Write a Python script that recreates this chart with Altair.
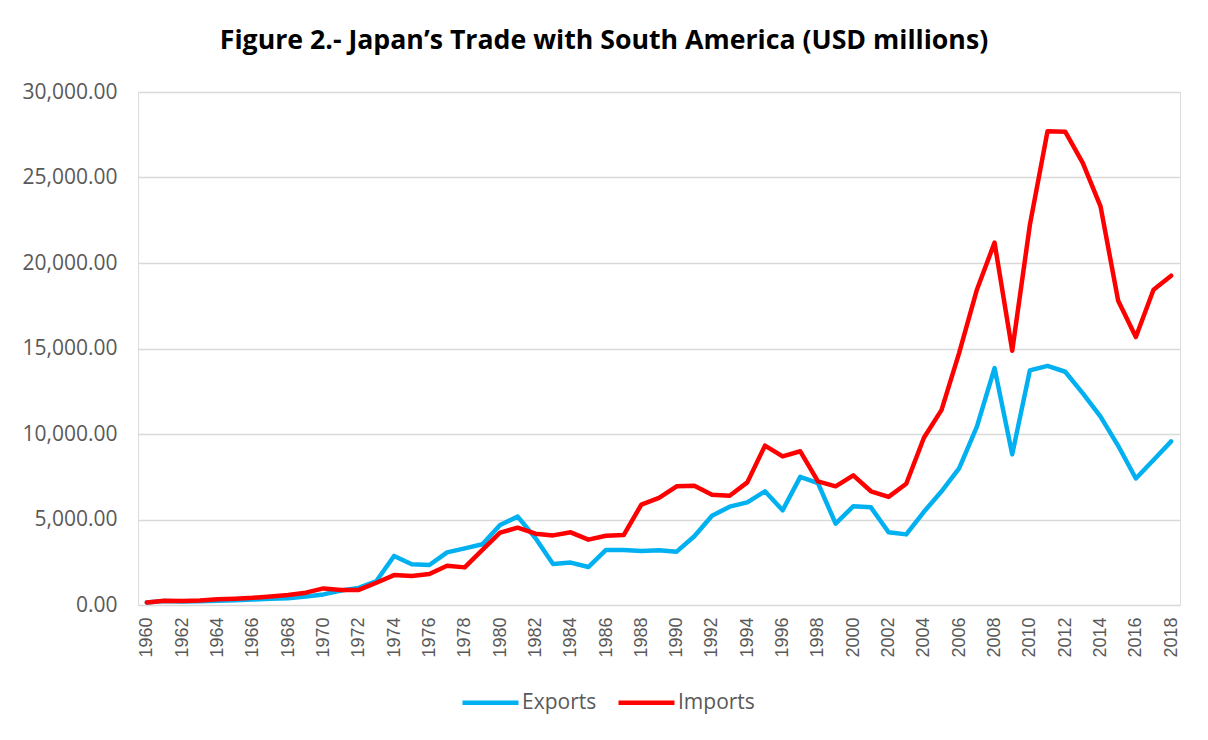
import altair as alt
import pandas as pd

years = list(range(1960, 2019))
exports = [150, 230, 200, 220, 250, 280, 320, 360, 400, 500,
           620, 850, 1000, 1400, 2870, 2380, 2340, 3080, 3310, 3550,
           4680, 5170, 3920, 2400, 2480, 2220, 3220, 3220, 3160, 3200,
           3120, 4020, 5220, 5750, 6000, 6650, 5540, 7490, 7130, 4760,
           5770, 5710, 4250, 4130, 5450, 6650, 8010, 10430, 13850, 8810,
           13720, 13980, 13640, 12380, 11020, 9310, 7400, 8480, 9570]
imports = [150, 250, 230, 270, 340, 370, 420, 500, 580, 720,
           970, 880, 880, 1300, 1750, 1700, 1810, 2300, 2200, 3220,
           4230, 4520, 4170, 4070, 4250, 3820, 4050, 4090, 5870, 6260,
           6940, 6980, 6450, 6390, 7170, 9320, 8690, 8990, 7230, 6940,
           7580, 6650, 6320, 7090, 9780, 11410, 14760, 18440, 21190, 14870,
           22230, 27710, 27680, 25840, 23310, 17790, 15670, 18440, 19260]
series_names = ["Exports", "Imports"]
series_colors = ["#00B0F0", "#FF0000"]
year_ticks = list(range(1960, 2019, 2))
y_ticks = [0, 5000, 10000, 15000, 20000, 25000, 30000]

df = pd.DataFrame({
    "Year": years * 2,
    "Value": exports + imports,
    "Series": ["Exports"] * len(years) + ["Imports"] * len(years),
})

chart = alt.Chart(df).mark_line(
    strokeWidth=4.5, strokeJoin="round", strokeCap="round"
).encode(
    x=alt.X("Year:Q",
            scale=alt.Scale(domain=[1959.5, 2018.5], nice=False, zero=False),
            axis=alt.Axis(values=year_ticks, format="d", labelAngle=270,
                          grid=False, ticks=False, domain=False,
                          labelPadding=12, labelFont="Liberation Sans",
                          labelFontSize=18, labelColor="#595959",
                          labelOverlap=False, title=None)),
    y=alt.Y("Value:Q",
            scale=alt.Scale(domain=[0, 30000], nice=False),
            axis=alt.Axis(values=y_ticks, format=",.2f", grid=True,
                          gridColor="#d9d9d9", gridWidth=1.3,
                          ticks=False, domain=False, labelPadding=21,
                          labelFont="Open Sans", labelFontSize=21,
                          labelColor="#595959", title=None)),
    color=alt.Color("Series:N",
                    scale=alt.Scale(domain=series_names, range=series_colors),
                    legend=alt.Legend(title=None, orient="none",
                                      direction="horizontal",
                                      legendX=322, legendY=580,
                                      symbolType="stroke",
                                      symbolSize=3136,
                                      symbolStrokeWidth=4.5,
                                      labelFont="Open Sans",
                                      labelFontSize=21,
                                      labelColor="#595959",
                                      labelOffset=1,
                                      columnPadding=12,
                                      padding=0)),
).properties(
    width=1042,
    height=513,
    title=alt.TitleParams(
        "Figure 2.- Japan\u2019s Trade with South America (USD millions)",
        font="Open Sans", fontSize=26.7, fontWeight="bold", color="#000000",
        anchor="middle", frame="group", dx=-55, baseline="alphabetic",
        offset=5),
    autosize=alt.AutoSizeParams(type="none"),
    padding={"left": 130, "top": 84, "right": 20, "bottom": 127},
).configure_view(stroke=None).configure(background="white")

chart.save("out.html", embed_options={"renderer": "svg", "actions": False})
